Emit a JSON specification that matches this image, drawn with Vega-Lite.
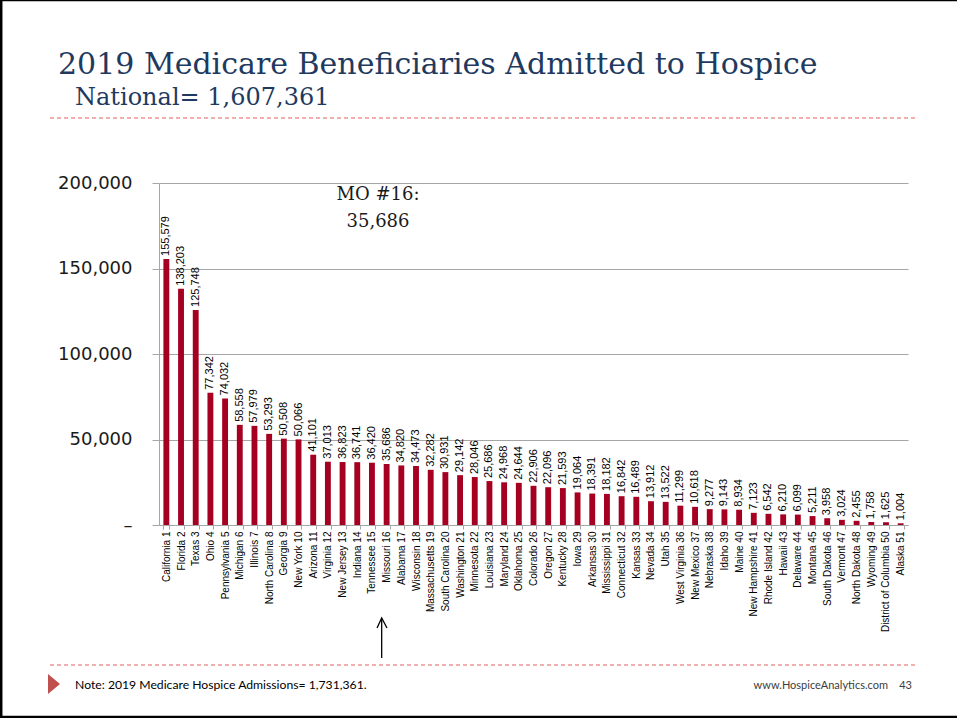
{
  "$schema": "https://vega.github.io/schema/vega-lite/v6.json",
  "width": 749,
  "height": 342,
  "autosize": {"type": "none"},
  "padding": {"left": 159, "top": 183, "right": 49, "bottom": 193},
  "background": "white",
  "config": {"view": {"stroke": null}},
  "resolve": {"scale": {"x": "independent", "y": "independent"}},
  "layer": [
    {
      "data": {"values": [
        {"state": "California 1", "value": 155579},
        {"state": "Florida 2", "value": 138203},
        {"state": "Texas 3", "value": 125748},
        {"state": "Ohio 4", "value": 77342},
        {"state": "Pennsylvania 5", "value": 74032},
        {"state": "Michigan 6", "value": 58558},
        {"state": "Illinois 7", "value": 57979},
        {"state": "North Carolina 8", "value": 53293},
        {"state": "Georgia 9", "value": 50508},
        {"state": "New York 10", "value": 50066},
        {"state": "Arizona 11", "value": 41101},
        {"state": "Virginia 12", "value": 37013},
        {"state": "New Jersey 13", "value": 36823},
        {"state": "Indiana 14", "value": 36741},
        {"state": "Tennessee 15", "value": 36420},
        {"state": "Missouri 16", "value": 35686},
        {"state": "Alabama 17", "value": 34820},
        {"state": "Wisconsin 18", "value": 34473},
        {"state": "Massachusetts 19", "value": 32282},
        {"state": "South Carolina 20", "value": 30931},
        {"state": "Washington 21", "value": 29142},
        {"state": "Minnesota 22", "value": 28046},
        {"state": "Louisiana 23", "value": 25686},
        {"state": "Maryland 24", "value": 24968},
        {"state": "Oklahoma 25", "value": 24644},
        {"state": "Colorado 26", "value": 22906},
        {"state": "Oregon 27", "value": 22096},
        {"state": "Kentucky 28", "value": 21593},
        {"state": "Iowa 29", "value": 19064},
        {"state": "Arkansas 30", "value": 18391},
        {"state": "Mississippi 31", "value": 18182},
        {"state": "Connecticut 32", "value": 16842},
        {"state": "Kansas 33", "value": 16489},
        {"state": "Nevada 34", "value": 13912},
        {"state": "Utah 35", "value": 13522},
        {"state": "West Virginia 36", "value": 11299},
        {"state": "New Mexico 37", "value": 10618},
        {"state": "Nebraska 38", "value": 9277},
        {"state": "Idaho 39", "value": 9143},
        {"state": "Maine 40", "value": 8934},
        {"state": "New Hampshire 41", "value": 7123},
        {"state": "Rhode Island 42", "value": 6542},
        {"state": "Hawaii 43", "value": 6210},
        {"state": "Delaware 44", "value": 6099},
        {"state": "Montana 45", "value": 5211},
        {"state": "South Dakota 46", "value": 3958},
        {"state": "Vermont 47", "value": 3024},
        {"state": "North Dakota 48", "value": 2455},
        {"state": "Wyoming 49", "value": 1758},
        {"state": "District of Columbia 50", "value": 1625},
        {"state": "Alaska 51", "value": 1004}
      ]},
      "encoding": {
        "x": {"field": "state", "type": "nominal", "sort": null,
          "scale": {"paddingInner": 0.6, "paddingOuter": 0.3},
          "axis": {"title": null, "labelAngle": -90, "labelFont": "Liberation Sans", "labelFontSize": 10, "labelColor": "#000000", "labelPadding": 2, "labelOverlap": false, "labelLimit": 0, "tickBand": "extent", "tickSize": 4, "tickColor": "#a6a6a6", "domainColor": "#a6a6a6", "grid": false}},
        "y": {"field": "value", "type": "quantitative",
          "scale": {"domain": [0, 200000], "nice": false},
          "axis": {"title": null, "values": [0, 50000, 100000, 150000, 200000], "labelExpr": "datum.value == 0 ? '–' : format(datum.value, ',')", "labelFont": "DejaVu Sans", "labelFontSize": 18, "labelColor": "#1a1a1a", "labelPadding": 20, "tickSize": 7, "tickColor": "#a6a6a6", "domainColor": "#a6a6a6", "gridColor": "#a6a6a6", "grid": true}}
      },
      "layer": [
        {"mark": {"type": "bar", "color": "#A50021"}},
        {"mark": {"type": "text", "angle": 270, "align": "left", "baseline": "middle", "dx": 3, "font": "Liberation Sans", "fontSize": 11, "color": "#000000"},
          "encoding": {"text": {"field": "value", "type": "quantitative", "format": ","}}}
      ]
    },
    {
      "data": {"values": [
        {"x": -0.1455, "x2": 1.0093, "y": 238012},
        {"x": -0.1455, "x2": 1.0093, "y": -81871}
      ]},
      "mark": {"type": "rule", "color": "#E06060", "strokeWidth": 1, "strokeDash": [4, 3]},
      "encoding": {
        "x": {"field": "x", "type": "quantitative", "scale": {"domain": [0, 1], "nice": false, "zero": false}, "axis": null},
        "x2": {"field": "x2"},
        "y": {"field": "y", "type": "quantitative", "scale": {"domain": [0, 200000], "nice": false}, "axis": null}
      }
    },
    {
      "data": {"values": [{"x": 0.2973, "y": -54386, "y2": -77778}]},
      "mark": {"type": "rule", "color": "#000000", "strokeWidth": 1.3},
      "encoding": {
        "x": {"field": "x", "type": "quantitative", "scale": {"domain": [0, 1], "nice": false, "zero": false}, "axis": null},
        "y": {"field": "y", "type": "quantitative", "scale": {"domain": [0, 200000], "nice": false}, "axis": null},
        "y2": {"field": "y2"}
      }
    },
    {
      "data": {"values": [
        {"x": 0.2911, "y": -60234, "o": 1},
        {"x": 0.2973, "y": -54386, "o": 2},
        {"x": 0.3044, "y": -60234, "o": 3}
      ]},
      "mark": {"type": "line", "color": "#000000", "strokeWidth": 1.3},
      "encoding": {
        "x": {"field": "x", "type": "quantitative", "scale": {"domain": [0, 1], "nice": false, "zero": false}, "axis": null},
        "y": {"field": "y", "type": "quantitative", "scale": {"domain": [0, 200000], "nice": false}, "axis": null},
        "order": {"field": "o"}
      }
    },
    {
      "data": {"values": [
        {"x": 0.2924, "y": 190058, "t": "MO #16:"},
        {"x": 0.2924, "y": 174269, "t": "35,686"}
      ]},
      "mark": {"type": "text", "align": "center", "baseline": "alphabetic", "font": "DejaVu Serif", "fontSize": 18, "color": "#1a1a1a"},
      "encoding": {
        "x": {"field": "x", "type": "quantitative", "scale": {"domain": [0, 1], "nice": false, "zero": false}, "axis": null},
        "y": {"field": "y", "type": "quantitative", "scale": {"domain": [0, 200000], "nice": false}, "axis": null},
        "text": {"field": "t"}
      }
    },
    {
      "data": {"values": [{"x": -0.1348, "y": 263743, "t": "2019 Medicare Beneficiaries Admitted to Hospice"}]},
      "mark": {"type": "text", "align": "left", "baseline": "alphabetic", "font": "DejaVu Serif", "fontSize": 30, "color": "#1F3A60"},
      "encoding": {
        "x": {"field": "x", "type": "quantitative", "scale": {"domain": [0, 1], "nice": false, "zero": false}, "axis": null},
        "y": {"field": "y", "type": "quantitative", "scale": {"domain": [0, 200000], "nice": false}, "axis": null},
        "text": {"field": "t"}
      }
    },
    {
      "data": {"values": [{"x": -0.1121, "y": 245614, "t": "National= 1,607,361"}]},
      "mark": {"type": "text", "align": "left", "baseline": "alphabetic", "font": "DejaVu Serif", "fontSize": 24, "color": "#1F3A60"},
      "encoding": {
        "x": {"field": "x", "type": "quantitative", "scale": {"domain": [0, 1], "nice": false, "zero": false}, "axis": null},
        "y": {"field": "y", "type": "quantitative", "scale": {"domain": [0, 200000], "nice": false}, "axis": null},
        "text": {"field": "t"}
      }
    },
    {
      "data": {"values": [{"x": -0.1121, "y": -95906, "t": "Note: 2019 Medicare Hospice Admissions= 1,731,361."}]},
      "mark": {"type": "text", "align": "left", "baseline": "alphabetic", "font": "Lato", "fontSize": 12.2, "color": "#000000"},
      "encoding": {
        "x": {"field": "x", "type": "quantitative", "scale": {"domain": [0, 1], "nice": false, "zero": false}, "axis": null},
        "y": {"field": "y", "type": "quantitative", "scale": {"domain": [0, 200000], "nice": false}, "axis": null},
        "text": {"field": "t"}
      }
    },
    {
      "data": {"values": [{"x": 1.0053, "y": -95906, "t": "www.HospiceAnalytics.com\u00a0\u00a0\u00a0\u00a043"}]},
      "mark": {"type": "text", "align": "right", "baseline": "alphabetic", "font": "Lato", "fontSize": 11, "color": "#3c3c3c"},
      "encoding": {
        "x": {"field": "x", "type": "quantitative", "scale": {"domain": [0, 1], "nice": false, "zero": false}, "axis": null},
        "y": {"field": "y", "type": "quantitative", "scale": {"domain": [0, 200000], "nice": false}, "axis": null},
        "text": {"field": "t"}
      }
    },
    {
      "data": {"values": [{"x": -0.1402, "y": -92982}]},
      "mark": {"type": "point", "shape": "M-0.6,-1L0.6,0L-0.6,1Z", "size": 400, "filled": true, "opacity": 1, "color": "#C0504D"},
      "encoding": {
        "x": {"field": "x", "type": "quantitative", "scale": {"domain": [0, 1], "nice": false, "zero": false}, "axis": null},
        "y": {"field": "y", "type": "quantitative", "scale": {"domain": [0, 200000], "nice": false}, "axis": null}
      }
    },
    {
      "data": {"values": [{"x": -0.2110, "y": 307018, "y2": -112865}]},
      "mark": {"type": "rule", "color": "#000000", "strokeWidth": 3},
      "encoding": {
        "x": {"field": "x", "type": "quantitative", "scale": {"domain": [0, 1], "nice": false, "zero": false}, "axis": null},
        "y": {"field": "y", "type": "quantitative", "scale": {"domain": [0, 200000], "nice": false}, "axis": null},
        "y2": {"field": "y2"}
      }
    },
    {
      "data": {"values": [
        {"x": -0.2123, "x2": 1.0654, "y": 307018},
        {"x": -0.2123, "x2": 1.0654, "y": -112281}
      ]},
      "mark": {"type": "rule", "color": "#000000", "strokeWidth": 2.5},
      "encoding": {
        "x": {"field": "x", "type": "quantitative", "scale": {"domain": [0, 1], "nice": false, "zero": false}, "axis": null},
        "x2": {"field": "x2"},
        "y": {"field": "y", "type": "quantitative", "scale": {"domain": [0, 200000], "nice": false}, "axis": null}
      }
    }
  ]
}
